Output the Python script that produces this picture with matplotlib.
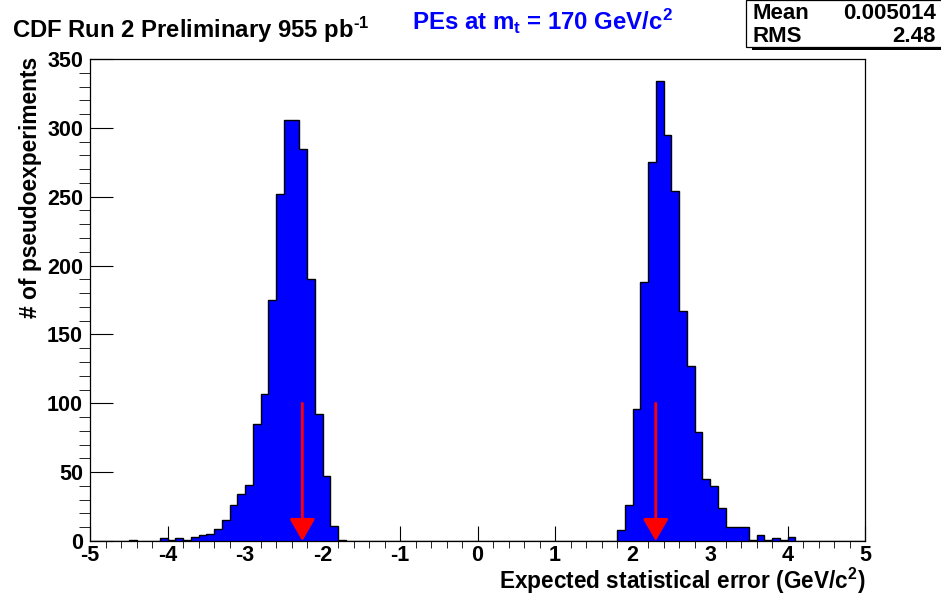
import numpy as np
import matplotlib
matplotlib.use("Agg")
import matplotlib.pyplot as plt
from matplotlib.patches import Rectangle
from matplotlib.ticker import MultipleLocator

# pseudoexperiment counts, 100 bins of 0.1 from -5 to 5
bin_lo, bin_hi, n_bins = -5.0, 5.0, 100
counts = [
    0, 0, 0, 0, 0, 1, 0, 0, 0, 2,
    1, 2, 1, 3, 4, 5, 9, 15, 26, 34,
    41, 85, 107, 175, 252, 306, 306, 285, 190, 92,
    47, 11, 1, 0, 0, 0, 0, 0, 0, 0,
    0, 0, 0, 0, 0, 0, 0, 0, 0, 0,
    0, 0, 0, 0, 0, 0, 0, 0, 0, 0,
    0, 0, 0, 0, 0, 0, 0, 0, 8, 26,
    96, 188, 275, 334, 295, 254, 167, 127, 79, 45,
    40, 24, 10, 10, 10, 1, 4, 1, 2, 1,
    3, 0, 0, 0, 0, 0, 0, 0, 0, 0,
]
# measured errors marked with red arrows
arrow_x = [-2.26, 2.30]
arrow_top = 100

stat_labels = ["Mean", "RMS"]
stat_values = ["0.005014", "2.48"]

W, H = 941, 600
plt.rcParams["font.family"] = ["Liberation Sans", "DejaVu Sans"]
plt.rcParams["font.weight"] = "bold"
plt.rcParams["axes.unicode_minus"] = False
plt.rcParams["mathtext.fontset"] = "custom"
plt.rcParams["mathtext.rm"] = "Liberation Sans:bold"
plt.rcParams["mathtext.bf"] = "Liberation Sans:bold"
plt.rcParams["mathtext.it"] = "Liberation Sans:bold"
plt.rcParams["mathtext.default"] = "regular"

fig = plt.figure(figsize=(W / 100, H / 100), dpi=100)
ax = fig.add_axes([90 / W, 1 - 541 / H, 775 / W, 482 / H])


def px(x, y):
    return x / W, 1 - y / H


edges = np.linspace(bin_lo, bin_hi, n_bins + 1)
ax.stairs(counts, edges, fill=True, color="#0000ff", zorder=2)
ax.stairs(counts, edges, color="black", lw=1.0, zorder=3)

for x in arrow_x:
    ax.annotate("", xy=(x, 0), xytext=(x, arrow_top),
                arrowprops=dict(arrowstyle="-|>,head_length=0.4,head_width=0.23",
                                mutation_scale=34, color="red", lw=2,
                                shrinkA=0, shrinkB=0),
                annotation_clip=False, zorder=4)

ax.set_xlim(bin_lo, bin_hi)
ax.set_ylim(0, 350)
ax.xaxis.set_major_locator(MultipleLocator(1))
ax.xaxis.set_minor_locator(MultipleLocator(0.2))
ax.yaxis.set_major_locator(MultipleLocator(50))
ax.yaxis.set_minor_locator(MultipleLocator(10))
ax.tick_params(direction="in", top=False, right=False, labelsize=15.5, width=0.8)
ax.tick_params(axis="y", which="major", length=16.5, pad=5)
ax.tick_params(axis="y", which="minor", length=8)
ax.tick_params(axis="x", which="major", length=10.8, pad=3)
ax.tick_params(axis="x", which="minor", length=5)
for s in ax.spines.values():
    s.set_linewidth(0.9)

fig.text(*px(865, 589), "Expected statistical error (GeV/c$^2$)",
         ha="right", va="baseline", fontsize=16.3)
fig.text(*px(37, 57), "# of pseudoexperiments", rotation=90,
         rotation_mode="anchor", ha="right", va="baseline", fontsize=16.4)

fig.text(*px(12, 38), r"CDF Run 2 Preliminary 955 pb$^{\text{-}1}$",
         ha="left", va="baseline", fontsize=17.2)
fig.text(*px(412, 30), "PEs at m$_t$ = 170 GeV/c$^2$",
         ha="left", va="baseline", fontsize=17.3, color="#0000ff")

# stats box with shadow
fig.patches.append(Rectangle(px(752, 50), 200 / W, 45 / H, transform=fig.transFigure,
                             facecolor="black", edgecolor="none", zorder=1))
fig.patches.append(Rectangle(px(746, 47), 200 / W, 47 / H, transform=fig.transFigure,
                             facecolor="white", edgecolor="black", lw=0.9, zorder=2))
for i, (lab, val) in enumerate(zip(stat_labels, stat_values)):
    yb = 19 + 23 * i
    fig.text(*px(752, yb), lab, ha="left", va="baseline", fontsize=16, zorder=3)
    fig.text(*px(936, yb), val, ha="right", va="baseline", fontsize=16, zorder=3)

fig.savefig("out.png", dpi=100)
